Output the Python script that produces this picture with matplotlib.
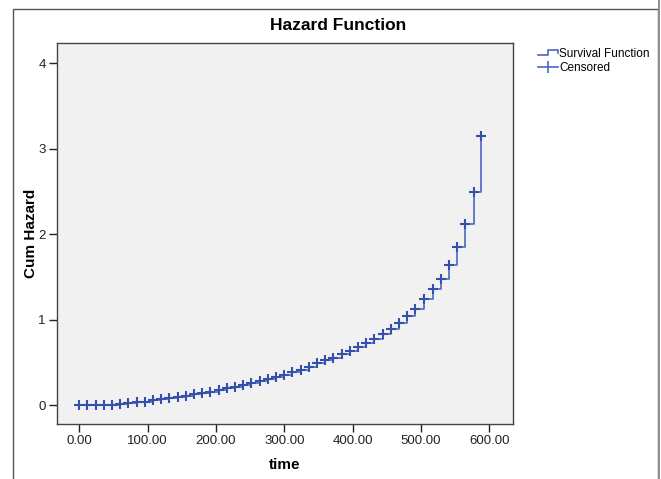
import matplotlib
matplotlib.use("Agg")
import matplotlib.pyplot as plt
from matplotlib.legend_handler import HandlerBase
from matplotlib.lines import Line2D
from matplotlib.patches import Rectangle

plt.rcParams['font.family'] = ['Liberation Sans', 'DejaVu Sans']

# censored times and cumulative hazard
time = [0, 12, 24, 36, 48, 60, 72, 84, 96, 108, 120, 132, 144, 156, 168,
        180, 192, 204, 216, 228, 240, 252, 264, 276, 288, 300, 312, 324,
        336, 348, 360, 372, 384, 396, 408, 420, 432, 444, 456, 468, 480,
        492, 505, 517, 529, 541, 553, 565, 577, 588]
cum_hazard = [0, 0, 0, 0, 0.005, 0.01, 0.02, 0.03, 0.04, 0.055, 0.07, 0.08,
              0.10, 0.11, 0.125, 0.14, 0.155, 0.175, 0.195, 0.21, 0.23,
              0.255, 0.28, 0.30, 0.325, 0.355, 0.385, 0.415, 0.45, 0.487,
              0.523, 0.554, 0.594, 0.636, 0.676, 0.722, 0.769, 0.831, 0.886,
              0.964, 1.046, 1.13, 1.24, 1.355, 1.48, 1.645, 1.85, 2.115,
              2.495, 3.155]

xticks = [0, 100, 200, 300, 400, 500, 600]
xlabels = ['0.00', '100.00', '200.00', '300.00', '400.00', '500.00', '600.00']
yticks = [0, 1, 2, 3, 4]

line_col = '#4a66c4'
mark_col = '#3450aa'


class HandlerStep(HandlerBase):
    # little step icon like the SPSS legend
    def create_artists(self, legend, orig_handle, xdescent, ydescent,
                       width, height, fontsize, trans):
        x0, x1 = -xdescent, -xdescent + width
        xm = x0 + width * 0.5
        ylo, yhi = -ydescent + height * 0.15, -ydescent + height * 0.8
        ln = Line2D([x0, xm, xm, x1, x1], [ylo, ylo, yhi, yhi, yhi - height * 0.3],
                    color=line_col, lw=1.2, transform=trans)
        return [ln]


fig = plt.figure(figsize=(6.61, 4.79), dpi=100)
fig.patch.set_facecolor('white')

# outer chart frame
fig.patches.append(Rectangle((13 / 661, -0.02), 645 / 661, 1 - 9 / 479 + 0.02,
                             transform=fig.transFigure, fill=False,
                             edgecolor='#555555', lw=1.0))
fig.patches.append(Rectangle((657.5 / 661, -0.02), 2.5 / 661, 1.02,
                             transform=fig.transFigure, facecolor='#909090',
                             edgecolor='none'))

ax = fig.add_axes([57 / 661, 1 - 424 / 479, 456 / 661, 381 / 479])
ax.set_facecolor('#f1f1f1')

ax.step(time, cum_hazard, where='post', color=line_col, lw=1.2)
ax.plot(time, cum_hazard, ls='none', marker='+', ms=7, mew=1.5, color=mark_col)

ax.set_xlim(-32.6, 634.7)
ax.set_ylim(-0.222, 4.24)
ax.set_xticks(xticks)
ax.set_xticklabels(xlabels)
ax.set_yticks(yticks)
ax.tick_params(direction='out', length=6, width=1, labelsize=9.5,
               colors='#222222', top=False, right=False, pad=2)
for sp in ax.spines.values():
    sp.set_color('#444444')
    sp.set_linewidth(1.0)

ax.set_xlabel('time', fontsize=11, fontweight='bold')
ax.set_ylabel('Cum Hazard', fontsize=11, fontweight='bold')
ax.xaxis.set_label_coords(0.5, -34 / 381)
ax.yaxis.set_label_coords(-19 / 456, 0.5)

fig.text(338 / 661, 1 - 25 / 479, 'Hazard Function', ha='center', va='center',
         fontsize=12.5, fontweight='bold')

h_step = Line2D([], [], color=line_col)
h_cens = Line2D([], [], ls='-', color=line_col, lw=1.2, marker='|', ms=9,
                mew=1.2)
leg = fig.legend([h_step, h_cens], ['Survival Function', 'Censored'],
                 handler_map={h_step: HandlerStep()},
                 loc='upper left', bbox_to_anchor=(533 / 661, 1 - 43 / 479),
                 frameon=False, fontsize=8.5, handlelength=1.7, handletextpad=0.1,
                 labelspacing=0.2, borderaxespad=0)

fig.savefig('out.png', dpi=100)
